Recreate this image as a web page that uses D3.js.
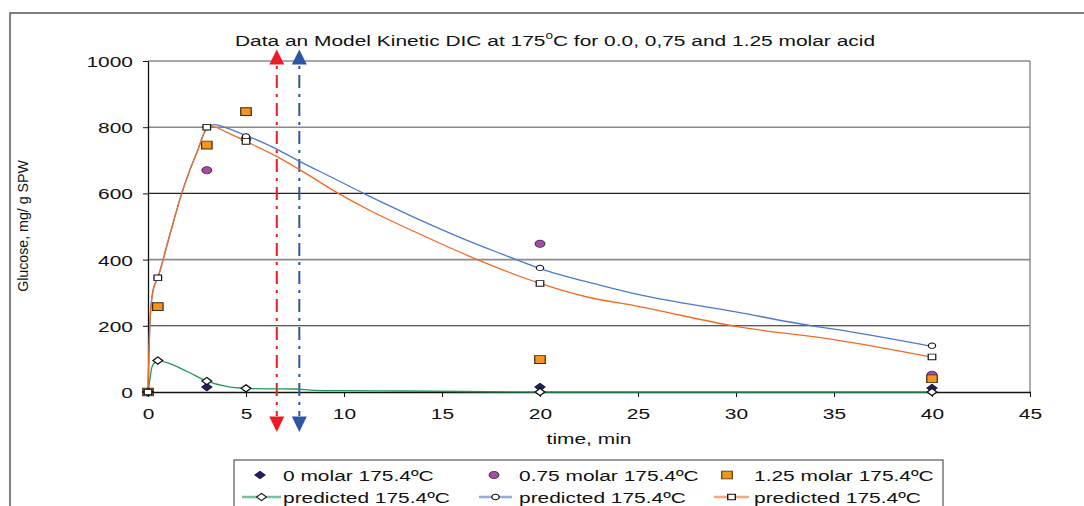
<!DOCTYPE html>
<html><head><meta charset="utf-8">
<script src="https://cdn.jsdelivr.net/npm/d3@7"></script>
<style>
body{margin:0;background:#fff}
svg{display:block}
text{font-family:"Liberation Sans",Arial,sans-serif;fill:#111}
</style>
</head><body>
<svg id="c" width="1084" height="506"></svg>
<script>
// ---------- DATA ----------
const titleParts = ["Data an Model Kinetic DIC at 175", "o", "C for 0.0, 0,75 and 1.25 molar acid"];
const xLabel = "time, min";
const yLabel = "Glucose, mg/ g SPW";
const xTicks = [0, 5, 10, 15, 20, 25, 30, 35, 40, 45];
const yTicks = [0, 200, 400, 600, 800, 1000];

// measured points
const zeroMolar = [[0, 0], [3, 15], [20, 15], [40, 12]];
const molar075 = [[3, 670], [5, 765], [20, 448], [40, 52]];
const molar125 = [[0, 0], [0.5, 258], [3, 746], [5, 847], [20, 98], [40, 40]];

// model markers
const predGreenPts = [[0, 0], [0.5, 95], [3, 33], [5, 11], [20, 0], [40, 0]];
const predBluePts = [[0.5, 345], [3, 800], [5, 772], [20, 375], [40, 140]];
const predOrangePts = [[0, 0], [0.5, 345], [3, 800], [5, 757], [20, 328], [40, 106]];

// model curves
const predGreenCurve = [[0, 0], [0.1, 40], [0.2, 75], [0.35, 90], [0.5, 95], [1, 88], [2, 62], [3, 33], [4, 17], [5, 11], [6, 9.5], [7.5, 9], [8.5, 5], [10, 4], [13, 3], [16, 1.5], [20, 0], [40, 0]];
const predBlueCurve = [[0, 0], [0.1, 210], [0.25, 305], [0.5, 345], [1.1, 472], [1.72, 600], [2.1, 665], [2.5, 724], [3, 796], [3.4, 808], [4, 798], [5, 775], [6.56, 734], [7.76, 696], [9.5, 645], [11, 600], [13.5, 530], [16, 465], [18, 418], [20, 373], [23, 324], [25, 295], [30, 242], [33.86, 200], [35, 190], [40, 138]];
const predOrangeCurve = [[0, 0], [0.1, 210], [0.25, 305], [0.5, 345], [1.1, 472], [1.72, 600], [2.1, 665], [2.5, 724], [3, 797], [3.3, 802], [4, 785], [5, 757], [6.56, 712], [7.76, 671], [9.71, 600], [11.5, 543], [13.54, 486], [16.8, 400], [20, 328], [22.4, 287], [25, 259], [30, 198], [35, 158], [40, 105]];

// vertical marker arrows (time, min)
const arrowTimes = [6.57, 7.72];

const legendRow1 = ["0 molar 175.4ºC", "0.75 molar 175.4ºC", "1.25 molar 175.4ºC"];
const legendRow2 = ["predicted 175.4ºC", "predicted 175.4ºC", "predicted 175.4ºC"];

// ---------- STYLE / LAYOUT ----------
const K = 1.35;          // horizontal stretch of the original picture
const FS = 15.5;
const C = {
  navy: "#231f63", navyStroke: "#111133",
  purple: "#a34ea6", purpleStroke: "#4a2450",
  orangeFill: "#f7941d", orangeStroke: "#3b2a12",
  green: "#1f9a55", blue: "#4f78cc", orange: "#f26a21",
  red: "#ed1c24", arrowBlue: "#2e55a5"
};
const arrowColors = [C.red, C.arrowBlue];
const gridColor = {0: "#111", 200: "#222", 400: "#8a8a8a", 600: "#222", 800: "#8a8a8a", 1000: "#8a8a8a"};

const svg = d3.select("#c");
const x = d3.scaleLinear().domain([0, 45]).range([148, 1030]);
const y = d3.scaleLinear().domain([0, 1000]).range([392, 61]);

function stretchText(sel) {
  sel.each(function () {
    const t = d3.select(this);
    const tx = +t.attr("x") || 0, ty = +t.attr("y") || 0;
    const old = t.attr("transform") || "";
    t.attr("x", 0).attr("y", 0).attr("transform", `${old} translate(${tx},${ty}) scale(${K},1)`);
  });
}

// outer frame
svg.append("path").attr("d", "M10,506 V13 H1084").attr("fill", "none").attr("stroke", "#555").attr("stroke-width", 1.5);

// gridlines
svg.append("g").selectAll("line").data(yTicks.filter(d => d > 0)).join("line")
  .attr("x1", x(0)).attr("x2", x(45)).attr("y1", d => y(d)).attr("y2", d => y(d))
  .attr("stroke", d => gridColor[d]).attr("stroke-width", d => gridColor[d] === "#8a8a8a" ? 1.6 : 1.1);
// right border
svg.append("line").attr("x1", x(45)).attr("x2", x(45)).attr("y1", y(1000)).attr("y2", y(0))
  .attr("stroke", "#8a8a8a").attr("stroke-width", 1.4);

// axes
const gx = svg.append("g").attr("transform", `translate(0,${y(0)})`)
  .call(d3.axisBottom(x).tickValues(xTicks).tickSize(5).tickSizeOuter(0).tickPadding(11).tickFormat(d3.format("d")));
const gy = svg.append("g").attr("transform", `translate(${x(0)},0)`)
  .call(d3.axisLeft(y).tickValues(yTicks).tickSize(5).tickSizeOuter(0).tickPadding(10).tickFormat(d3.format("d")));
[gx, gy].forEach(g => {
  g.select(".domain").attr("stroke", "#111").attr("stroke-width", 1.3);
  g.selectAll(".tick line").attr("stroke", "#111");
  g.selectAll("text").attr("font-size", FS).attr("fill", "#111").attr("font-family", '"Liberation Sans",Arial,sans-serif');
});
gx.selectAll(".tick text").each(function () {
  const t = d3.select(this);
  const yy = +t.attr("y");
  t.attr("dy", null).attr("y", yy + 0.71 * FS);
});
gy.selectAll(".tick text").each(function () {
  const t = d3.select(this);
  t.attr("dy", null).attr("y", 0.36 * FS);
});
stretchText(gx.selectAll(".tick text"));
stretchText(gy.selectAll(".tick text"));

// arrows (dash-dot vertical lines with heads)
const ag = svg.append("g");
arrowTimes.forEach((t, i) => {
  const ax = x(t);
  ag.append("line").attr("x1", ax).attr("x2", ax).attr("y1", 66).attr("y2", 416)
    .attr("stroke", arrowColors[i]).attr("stroke-width", 2).attr("stroke-dasharray", "3,6,13,6")
    .attr("stroke-dashoffset", 0);
  ag.append("path").attr("d", `M${ax},49.5 L${ax + 7.5},64.5 L${ax - 7.5},64.5 Z`).attr("fill", arrowColors[i]);
  ag.append("path").attr("d", `M${ax},432 L${ax + 7.5},416.5 L${ax - 7.5},416.5 Z`).attr("fill", arrowColors[i]);
});

// marker shapes (drawn in unstretched units then stretched by K horizontally)
function shapePath(type, r) {
  if (type === "diamond") return `M0,${-r} L${r},0 L0,${r} L${-r},0 Z`;
  if (type === "square") return `M${-r},${-r} H${r} V${r} H${-r} Z`;
  return d3.symbol(d3.symbolCircle, Math.PI * r * r)();
}
function drawMarkers(g, pts, type, r, fill, stroke, sw) {
  g.selectAll(null).data(pts).join("path")
    .attr("d", shapePath(type, r))
    .attr("transform", d => `translate(${x(d[0])},${y(d[1])}) scale(${K},1)`)
    .attr("fill", fill).attr("stroke", stroke).attr("stroke-width", sw);
}

// data series markers
const mg = svg.append("g");
drawMarkers(mg, zeroMolar, "diamond", 3.8, C.navy, C.navyStroke, 0.8);
drawMarkers(mg, molar075, "circle", 3.6, C.purple, C.purpleStroke, 0.8);
drawMarkers(mg, molar125, "square", 3.9, C.orangeFill, C.orangeStroke, 0.9);

// model lines
const line = d3.line().x(d => x(d[0])).y(d => y(d[1])).curve(d3.curveMonotoneX);
const lg = svg.append("g").attr("fill", "none").attr("stroke-width", 1.3);
lg.append("path").attr("d", line(predGreenCurve)).attr("stroke", C.green);
lg.append("path").attr("d", line(predBlueCurve)).attr("stroke", C.blue);
lg.append("path").attr("d", line(predOrangeCurve)).attr("stroke", C.orange);

// model markers
const pm = svg.append("g");
drawMarkers(pm, predGreenPts, "diamond", 3.6, "#fff", "#111", 1.1);
drawMarkers(pm, predBluePts, "circle", 2.7, "#fff", "#111", 0.9);
drawMarkers(pm, predOrangePts, "square", 2.8, "#fff", "#111", 0.9);

// title
const tt = svg.append("text").attr("x", 555).attr("y", 46).attr("text-anchor", "middle").attr("font-size", FS);
tt.append("tspan").text(titleParts[0]);
tt.append("tspan").attr("font-size", 10).attr("dy", -7).text(titleParts[1]);
tt.append("tspan").attr("dy", 7).text(titleParts[2]);
stretchText(tt);

// axis labels
const xl = svg.append("text").attr("x", 589).attr("y", 444).attr("text-anchor", "middle").attr("font-size", FS).text(xLabel);
stretchText(xl);
svg.append("text").attr("transform", "translate(28,226) rotate(-90)").attr("text-anchor", "middle")
  .attr("font-size", 14.2).text(yLabel);

// legend
const leg = svg.append("g");
leg.append("rect").attr("x", 234).attr("y", 460).attr("width", 709).attr("height", 60)
  .attr("fill", "#fff").attr("stroke", "#333").attr("stroke-width", 1);
const row1X = [260, 494, 727], row1T = [283, 519, 754];
const row2L = [[242, 281], [479, 512], [714, 749]], row2T = [283, 519, 754];
const r1y = 475, r2y = 497;
const r1spec = [["diamond", 3.8, C.navy, C.navyStroke], ["circle", 3.6, C.purple, C.purpleStroke], ["square", 3.9, C.orangeFill, C.orangeStroke]];
const r2spec = [[C.green, "diamond", 3.6], [C.blue, "circle", 2.7], [C.orange, "square", 2.8]];
legendRow1.forEach((lab, i) => {
  const s = r1spec[i];
  leg.append("path").attr("d", shapePath(s[0], s[1])).attr("transform", `translate(${row1X[i]},${r1y}) scale(${K},1)`)
    .attr("fill", s[2]).attr("stroke", s[3]).attr("stroke-width", 0.8);
  const t = leg.append("text").attr("x", row1T[i]).attr("y", r1y + 0.36 * FS).attr("font-size", FS).text(lab);
  stretchText(t);
});
legendRow2.forEach((lab, i) => {
  const s = r2spec[i], L = row2L[i];
  leg.append("line").attr("x1", L[0]).attr("x2", L[1]).attr("y1", r2y).attr("y2", r2y).attr("stroke", s[0]).attr("stroke-width", 2.4).attr("opacity", 0.6);
  leg.append("path").attr("d", shapePath(s[1], s[2])).attr("transform", `translate(${(L[0] + L[1]) / 2},${r2y}) scale(${K},1)`)
    .attr("fill", "#fff").attr("stroke", "#111").attr("stroke-width", 1);
  const t = leg.append("text").attr("x", row2T[i]).attr("y", r2y + 0.36 * FS).attr("font-size", FS).text(lab);
  stretchText(t);
});
</script>
</body></html>
